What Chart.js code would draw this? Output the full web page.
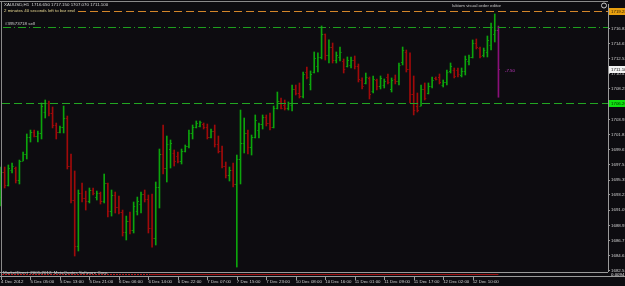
<!DOCTYPE html>
<html>
<head>
<meta charset="utf-8">
<script src="https://cdn.jsdelivr.net/npm/chart.js@4.4.0/dist/chart.umd.min.js"></script>
<style>
  html, body { margin: 0; padding: 0; background: #0d0c10; }
  canvas { display: block; }
</style>
</head>
<body>
<canvas id="xauChart" width="625" height="286"></canvas>
<script>
// XAUUSD H1 bars, 4 Dec 21:00 .. 12 Dec 17:00
const opens = [
  1693.0,1696.5,1694.6,1696.8,1697.0,1695.3,1698.1,1699.0,1701.4,1702.2,
  1701.6,1702.0,1705.0,1706.3,1704.9,1703.1,1702.2,1702.8,1704.2,1697.4,
  1692.5,1686.0,1693.5,1692.8,1692.4,1693.9,1693.0,1693.5,1692.4,1694.9,
  1691.0,1693.2,1691.5,1690.8,1688.0,1689.5,1688.3,1691.0,1692.0,1693.4,
  1692.6,1688.5,1687.2,1694.3,1699.0,1697.0,1699.8,1699.2,1698.8,1698.0,
  1699.5,1700.1,1702.0,1702.9,1703.0,1703.3,1702.8,1701.5,1702.3,1700.5,
  1699.5,1697.4,1696.0,1696.7,1694.8,1698.3,1700.6,1702.0,1700.0,1701.4,
  1702.5,1703.3,1704.3,1703.4,1702.8,1705.6,1706.6,1706.0,1705.5,1706.0,
  1708.2,1707.7,1707.2,1710.6,1709.0,1710.6,1711.5,1712.8,1716.0,1713.0,
  1714.2,1712.3,1712.8,1712.2,1711.5,1711.6,1712.4,1711.5,1709.5,1709.1,
  1709.8,1707.9,1709.5,1708.6,1708.8,1710.0,1708.3,1709.7,1709.3,1712.0,
  1713.5,1711.0,1707.5,1705.9,1705.9,1708.3,1707.7,1708.6,1709.8,1710.0,
  1708.8,1709.2,1710.8,1710.9,1710.9,1710.2,1710.8,1712.2,1712.8,1714.8,
  1714.0,1713.0,1713.5,1714.4,1716.0,1716.65
];
const highs = [
  1697.19,1697.19,1697.48,1697.76,1697.19,1698.18,1699.32,1701.87,1702.43,1702.43,
  1702.29,1706.26,1706.68,1706.54,1705.69,1703.42,1703.00,1705.83,1704.41,1699.03,
  1696.63,1693.94,1694.93,1693.79,1694.22,1694.22,1693.79,1693.65,1696.20,1694.93,
  1693.94,1693.65,1693.09,1691.10,1690.25,1690.82,1692.24,1692.94,1693.65,1693.94,
  1693.23,1693.37,1695.07,1699.74,1703.14,1701.58,1701.02,1699.60,1699.32,1699.74,
  1700.31,1702.43,1703.14,1703.71,1703.71,1703.42,1703.28,1702.57,1703.14,1701.58,
  1700.17,1697.90,1697.19,1697.76,1698.89,1705.26,1704.13,1702.43,1701.72,1704.56,
  1703.42,1704.56,1704.56,1704.84,1705.83,1707.81,1706.96,1706.68,1706.40,1708.80,
  1708.80,1709.09,1710.64,1711.35,1710.79,1713.48,1713.34,1717.16,1716.03,1715.18,
  1714.75,1713.48,1714.18,1712.49,1712.77,1712.77,1712.91,1711.78,1709.80,1710.50,
  1709.94,1710.08,1709.65,1710.08,1709.65,1710.36,1709.80,1710.22,1711.92,1714.18,
  1713.76,1713.34,1710.08,1707.67,1708.80,1709.09,1709.09,1709.94,1709.94,1710.36,
  1709.51,1710.93,1711.92,1711.21,1711.21,1711.21,1712.91,1713.05,1715.18,1715.32,
  1714.18,1714.04,1715.74,1717.58,1718.86,1717.15
];
const lows = [
  1691.67,1694.22,1694.50,1696.34,1694.93,1694.79,1698.04,1698.33,1700.73,1701.44,
  1700.73,1701.16,1704.13,1704.41,1702.72,1701.16,1702.01,1702.01,1696.91,1692.10,
  1684.59,1685.30,1692.24,1691.10,1692.10,1693.23,1692.52,1691.95,1692.10,1690.11,
  1690.25,1690.68,1690.54,1687.42,1686.86,1687.71,1687.85,1690.40,1690.68,1692.24,
  1687.85,1685.86,1686.15,1691.39,1696.20,1695.07,1697.05,1697.33,1697.76,1697.62,
  1699.32,1699.88,1701.16,1702.72,1702.86,1702.57,1701.16,1701.30,1700.02,1699.18,
  1697.05,1695.64,1695.21,1694.36,1683.03,1694.79,1699.18,1699.03,1698.89,1701.30,
  1701.30,1702.57,1703.00,1702.43,1702.72,1705.41,1705.41,1705.26,1705.26,1705.12,
  1707.39,1706.96,1706.96,1709.65,1708.10,1710.50,1710.64,1712.49,1712.34,1711.92,
  1711.92,1711.92,1712.20,1710.50,1711.35,1711.21,1711.07,1709.23,1708.24,1708.95,
  1706.82,1707.67,1708.10,1708.24,1708.38,1708.95,1707.81,1708.95,1708.80,1711.64,
  1710.64,1706.26,1704.56,1704.98,1705.83,1706.68,1707.53,1708.38,1709.51,1708.95,
  1708.52,1708.80,1710.50,1709.80,1709.94,1709.94,1710.22,1711.64,1712.63,1713.90,
  1712.63,1712.77,1712.77,1713.76,1714.89,1707.07
];
const closes = [
  1696.5,1694.6,1697.0,1697.4,1695.3,1698.0,1699.1,1701.5,1702.2,1701.6,
  1702.0,1705.8,1706.3,1704.9,1703.1,1702.1,1702.8,1704.2,1697.4,1692.5,
  1686.0,1693.5,1692.8,1692.4,1693.9,1693.5,1693.5,1692.4,1694.9,1691.0,
  1693.2,1691.5,1690.8,1688.0,1689.5,1688.3,1691.7,1692.4,1693.4,1692.6,
  1688.5,1687.2,1694.3,1699.0,1697.0,1700.5,1700.6,1698.0,1698.0,1699.5,
  1700.1,1702.0,1702.9,1703.4,1703.5,1702.8,1701.5,1702.3,1700.5,1699.5,
  1697.4,1696.0,1696.7,1694.8,1698.3,1700.6,1702.0,1700.0,1701.4,1703.8,
  1703.3,1704.3,1703.4,1702.8,1705.6,1706.6,1705.6,1705.5,1706.2,1708.2,
  1707.7,1707.2,1710.3,1710.0,1710.4,1712.6,1712.8,1716.0,1713.0,1714.2,
  1712.3,1713.1,1713.5,1711.0,1712.4,1712.3,1711.5,1709.6,1708.7,1710.0,
  1707.5,1709.6,1708.6,1709.8,1709.3,1709.2,1709.5,1709.3,1711.7,1713.8,
  1711.0,1707.5,1705.2,1705.3,1708.3,1707.0,1708.7,1709.5,1709.6,1709.2,
  1709.2,1710.6,1711.5,1710.1,1710.3,1710.8,1712.5,1712.8,1714.8,1714.2,
  1712.9,1713.7,1715.2,1717.0,1716.6,1711.10
];

// time axis labels, one every 8 bars
const timeLabels = ['4 Dec 2012','5 Dec 05:00','5 Dec 13:00','5 Dec 21:00','6 Dec 06:00','6 Dec 14:00',
  '6 Dec 22:00','7 Dec 07:00','7 Dec 15:00','7 Dec 23:00','10 Dec 08:00','10 Dec 16:00',
  '11 Dec 01:00','11 Dec 09:00','11 Dec 17:00','12 Dec 02:00','12 Dec 10:00'];
const labelBars = timeLabels.map((t, i) => i * 8);

// price scale labels
const priceTicks = [1716.83,1714.67,1712.53,1710.41,1708.25,1703.93,1701.81,1699.67,
  1697.51,1695.35,1693.23,1691.09,1688.93,1686.77,1684.61,1682.51];

// horizontal order / price lines
const askLine = 1719.28;
const sellLine = 1716.97;
const buyLine = 1706.26;
const lastPrice = 1711.10;

const UP = '#0ca40c', DOWN = '#a00a0a', LAST = '#8a107a';
const barColors = opens.map((o, i) => i === opens.length - 1 ? LAST : (closes[i] >= o ? UP : DOWN));
const FONT = { family: 'Liberation Sans', size: 4.4 };

const background = {
  id: 'background',
  beforeDraw(chart) {
    const ctx = chart.ctx;
    ctx.save();
    ctx.fillStyle = '#0d0c10';
    ctx.fillRect(0, 0, chart.width, chart.height);
    ctx.restore();
  }
};

// open / close ticks of each OHLC bar
const ohlcTicks = {
  id: 'ohlcTicks',
  afterDatasetsDraw(chart) {
    const { ctx, scales: { x, y } } = chart;
    ctx.save();
    opens.forEach((o, i) => {
      const px = x.getPixelForValue(i);
      ctx.fillStyle = barColors[i];
      ctx.fillRect(px - 1.5, Math.round(y.getPixelForValue(o)), 1, 1);
      ctx.fillRect(px + 0.5, Math.round(y.getPixelForValue(closes[i])), 1, 1);
    });
    ctx.restore();
  }
};

// dashed line drawn as solid 1px segments, pattern = [on, off, on, off...]
function hline(ctx, yy, x0, x1, color, pattern) {
  const row = Math.round(yy);
  ctx.fillStyle = color;
  let xx = x0, k = 0;
  while (xx < x1) {
    const len = pattern[k % pattern.length];
    if (k % 2 === 0) ctx.fillRect(xx, row, Math.min(len, x1 - xx), 1);
    xx += len;
    k++;
  }
}

function tag(ctx, yy, text, bg, fg, x0) {
  const top = Math.round(yy) - 3;
  ctx.fillStyle = bg;
  ctx.fillRect(x0, top, 625 - x0, 7);
  ctx.fillStyle = fg;
  ctx.fillText(text, x0 + 2, top + 3.6);
}

const overlay = {
  id: 'overlay',
  afterDraw(chart) {
    const { ctx, chartArea: a, scales: { x, y } } = chart;
    ctx.save();
    ctx.font = FONT.size + 'px ' + FONT.family;
    ctx.textBaseline = 'middle';

    // window frame
    ctx.fillStyle = '#8a8a8a';
    ctx.fillRect(0, 1, a.right, 1);
    ctx.fillRect(1, 1, 1, 276);

    // order lines
    hline(ctx, y.getPixelForValue(askLine), 78, a.right, '#d4862a', [8, 4]);
    hline(ctx, y.getPixelForValue(sellLine), 3, a.right, '#1e9e1e', [8, 3, 1, 3]);
    hline(ctx, y.getPixelForValue(buyLine), 2, a.right, '#22a622', [8, 4]);

    // price tags on the scale
    tag(ctx, y.getPixelForValue(askLine), askLine.toFixed(2), '#e8a010', '#2a1a00', a.right + 1);
    tag(ctx, y.getPixelForValue(lastPrice), lastPrice.toFixed(2), '#f2f2f2', '#101010', a.right + 1);
    tag(ctx, y.getPixelForValue(buyLine), buyLine.toFixed(2), '#10e010', '#002000', a.right + 1);

    // texts
    const n = opens.length - 1;
    ctx.fillStyle = '#d8d8d8';
    ctx.fillText('XAUUSD,H1  ' + opens[n].toFixed(3) + ' ' + highs[n].toFixed(3) + ' ' +
      lows[n].toFixed(3) + ' ' + closes[n].toFixed(3), 4, 5);
    ctx.fillStyle = '#e8d890';
    ctx.fillText('2 minutes 40 seconds left to bar end', 4, 10.5);
    ctx.fillStyle = '#d0d0d0';
    ctx.fillText('#39573718 sell', 5, 24);
    ctx.fillStyle = '#c8c8c8';
    ctx.fillText('luktom visual order editor', 452, 5.5);
    ctx.strokeStyle = '#c8c8c8';
    ctx.lineWidth = 1;
    ctx.beginPath();
    ctx.arc(604, 5.5, 2.5, 0, Math.PI * 2);
    ctx.stroke();
    ctx.fillStyle = '#c038c0';
    ctx.fillText('-7.50', 505, 71);

    // indicator sub-window
    ctx.fillStyle = '#9a9a9a';
    ctx.fillRect(0, 272, a.right, 1);
    ctx.fillRect(0, 276, 625, 1);
    hline(ctx, 274, 2, 150, '#c01818', [2, 1]);
    hline(ctx, 274, 150, x.getPixelForValue(n), '#a01010', [1, 0]);
    ctx.fillStyle = '#cfcfcf';
    ctx.fillText('MarketDirect  2001-2012, MetaQuotes Software Corp.', 3, 272.5);
    ctx.fillStyle = '#e0e0e0';
    ctx.fillText('0.0094', 611, 274.5);

    // time scale tick marks
    ctx.fillStyle = '#9a9a9a';
    labelBars.forEach(v => {
      ctx.fillRect(Math.round(x.getPixelForValue(v)), 277, 1, 3);
    });
    ctx.restore();
  }
};

const barsData = highs.map((h, i) => ({ x: i, y: [lows[i], h] }));

new Chart(document.getElementById('xauChart'), {
  type: 'bar',
  data: {
    datasets: [{
      label: 'XAUUSD,H1',
      data: barsData,
      backgroundColor: barColors,
      borderWidth: 0,
      barThickness: 1,
      grouped: false
    }]
  },
  options: {
    responsive: false,
    animation: false,
    devicePixelRatio: 1,
    layout: { padding: { top: 4, left: 0, right: 0, bottom: 0 } },
    plugins: { legend: { display: false }, tooltip: { enabled: false } },
    scales: {
      x: {
        type: 'linear',
        offset: false,
        min: -0.27,
        max: 164.73,
        afterBuildTicks: s => { s.ticks = labelBars.map(v => ({ value: v })); },
        afterFit: s => { s.height = 15; },
        // invisible tick marks only push the labels down to the time scale row
        grid: { display: true, drawOnChartArea: false, drawTicks: true, tickLength: 8, color: 'rgba(0,0,0,0)', offset: false },
        border: { display: false },
        ticks: {
          autoSkip: false, maxRotation: 0, minRotation: 0, align: 'start', padding: 0,
          color: '#d0d0d0', font: FONT,
          callback: (v, i) => timeLabels[i]
        }
      },
      y: {
        position: 'right',
        min: 1682.47,
        max: 1720.27,
        afterBuildTicks: s => { s.ticks = priceTicks.map(v => ({ value: v })); },
        afterFit: s => { s.width = 17; },
        grid: { drawOnChartArea: false, tickLength: 2, color: '#9a9a9a' },
        border: { color: '#9a9a9a' },
        ticks: {
          autoSkip: false, padding: 1, color: '#d0d0d0', font: FONT,
          callback: v => v.toFixed(2)
        }
      }
    }
  },
  plugins: [background, ohlcTicks, overlay]
});
</script>
</body>
</html>
